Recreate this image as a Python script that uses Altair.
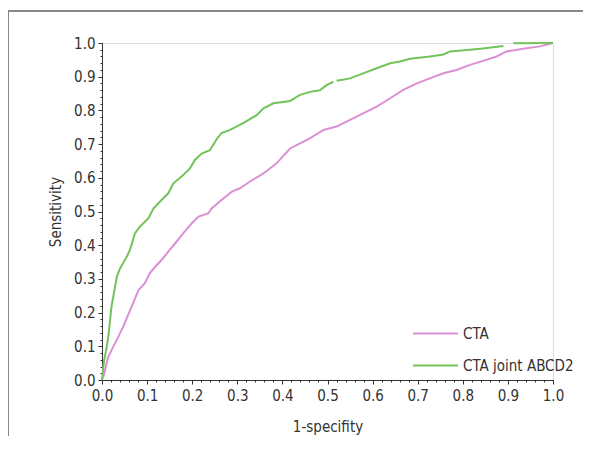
import altair as alt
import pandas as pd

# CTA (pink)
cta_x = [0, 0.006, 0.010, 0.014, 0.025, 0.036, 0.047, 0.058, 0.069, 0.081, 0.095, 0.106,
         0.118, 0.132, 0.147, 0.162, 0.180, 0.199, 0.214, 0.236, 0.243, 0.265, 0.288, 0.306,
         0.328, 0.358, 0.387, 0.417, 0.439, 0.461, 0.491, 0.520, 0.550, 0.579, 0.609, 0.639,
         0.668, 0.698, 0.727, 0.757, 0.786, 0.816, 0.845, 0.875, 0.897, 0.934, 0.971, 1.0]
cta_y = [0, 0.024, 0.049, 0.069, 0.099, 0.128, 0.158, 0.193, 0.228, 0.267, 0.287, 0.317,
         0.336, 0.356, 0.381, 0.405, 0.435, 0.465, 0.485, 0.495, 0.509, 0.534, 0.559, 0.569,
         0.589, 0.613, 0.643, 0.687, 0.702, 0.717, 0.742, 0.752, 0.772, 0.791, 0.811, 0.836,
         0.861, 0.880, 0.895, 0.910, 0.920, 0.935, 0.947, 0.960, 0.975, 0.983, 0.990, 1.0]

# CTA joint ABCD2 (green), drawn in three pieces as in the source
joint_x = [0, 0.003, 0.005, 0.010, 0.014, 0.021, 0.025, 0.033, 0.040, 0.055, 0.062, 0.073,
           0.084, 0.103, 0.114, 0.132, 0.147, 0.158, 0.180, 0.195, 0.206, 0.221, 0.239, 0.256,
           0.265, 0.284, 0.313, 0.343, 0.358, 0.380, 0.417, 0.439, 0.461, 0.483, 0.498, 0.513,
           0.520, 0.550, 0.579, 0.609, 0.639, 0.661, 0.683, 0.727, 0.757, 0.772, 0.809, 0.845,
           0.890, 0.912, 1.0]
joint_y = [0, 0.040, 0.060, 0.094, 0.128, 0.218, 0.247, 0.307, 0.331, 0.366, 0.386, 0.435,
           0.455, 0.480, 0.509, 0.534, 0.554, 0.583, 0.608, 0.628, 0.653, 0.672, 0.682, 0.718,
           0.733, 0.742, 0.762, 0.786, 0.806, 0.821, 0.828, 0.846, 0.855, 0.860, 0.875, 0.885,
           0.888, 0.895, 0.910, 0.925, 0.940, 0.945, 0.953, 0.960, 0.966, 0.975, 0.979, 0.984,
           0.991, 0.999, 1.0]
joint_piece = [0] * 36 + [1] * 13 + [2] * 2

major_ticks = [round(i * 0.1, 1) for i in range(11)]
minor_ticks = [round(i * 0.02, 2) for i in range(51)]

series_names = ["CTA", "CTA joint ABCD2"]
series_colors = ["#db8fd4", "#72c35a"]

rows = []
for x, y in zip(cta_x, cta_y):
    rows.append({"x": x, "y": y, "series": "CTA", "piece": "a0"})
for x, y, p in zip(joint_x, joint_y, joint_piece):
    rows.append({"x": x, "y": y, "series": "CTA joint ABCD2", "piece": f"b{p}"})
df = pd.DataFrame(rows)

FONT = "DejaVu Sans Condensed, Liberation Sans, sans-serif"
FS = 15
W, H = 451, 337

xscale = alt.Scale(domain=[0, 1], nice=False, zero=False)
yscale = alt.Scale(domain=[0, 1], nice=False, zero=False)

main_x_axis = alt.Axis(values=major_ticks, format=".1f", tickSize=4, labelFontSize=FS,
                       labelFont=FONT, labelColor="#333333", domainColor="#333333",
                       tickColor="#333333", labelPadding=4, grid=False, orient="bottom",
                       labelFlush=False, labelOverlap=False,
                       title="1-specifity", titleFont=FONT, titleFontSize=FS,
                       titleFontWeight="normal", titleColor="#333333", titlePadding=16)
main_y_axis = alt.Axis(values=major_ticks, format=".1f", tickSize=4, labelFontSize=FS,
                       labelFont=FONT, labelColor="#333333", domainColor="#333333",
                       tickColor="#333333", labelPadding=3, grid=False, orient="left",
                       labelFlush=False, labelOverlap=False,
                       title="Sensitivity", titleFont=FONT, titleFontSize=FS,
                       titleFontWeight="normal", titleColor="#333333", titlePadding=10)

lines = alt.Chart(df).mark_line(strokeWidth=2).encode(
    x=alt.X("x:Q", scale=xscale, axis=main_x_axis),
    y=alt.Y("y:Q", scale=yscale, axis=main_y_axis),
    color=alt.Color("series:N", scale=alt.Scale(domain=series_names, range=series_colors),
                    legend=alt.Legend(orient="none", legendX=310, legendY=267, title=None,
                                      symbolType="stroke", symbolSize=2025,
                                      symbolStrokeWidth=2, labelFont=FONT, labelFontSize=FS,
                                      labelColor="#333333", labelOffset=4, rowPadding=0)),
    detail="piece:N",
    order="x:Q",
)

minor_x_axis = alt.Axis(values=minor_ticks, labels=False, tickSize=2, domain=False,
                        grid=False, orient="bottom", title=None, tickColor="#333333")
minor_y_axis = alt.Axis(values=minor_ticks, labels=False, tickSize=2, domain=False,
                        grid=False, orient="left", title=None, tickColor="#333333")

minor = alt.Chart(df).mark_point(opacity=0).encode(
    x=alt.X("x:Q", scale=xscale, axis=minor_x_axis),
    y=alt.Y("y:Q", scale=yscale, axis=minor_y_axis),
)

frame_left = alt.Chart(df).mark_rule(color="#888888", strokeWidth=1.5).encode(
    x=alt.value(-94), y=alt.value(-32), y2=alt.value(H + 80))
frame_top = alt.Chart(df).mark_rule(color="#888888", strokeWidth=1.5).encode(
    x=alt.value(-94), x2=alt.value(W + 60), y=alt.value(-32))

chart = alt.layer(frame_left, frame_top, minor, lines).resolve_axis(
    x="independent", y="independent"
).properties(
    width=W, height=H,
    autosize=alt.AutoSizeParams(type="none"),
    padding={"left": 94, "top": 35, "right": 30, "bottom": 56},
).configure_view(stroke=None).configure(background="white")

chart.save("out.html", embed_options={"renderer": "svg", "actions": False})
